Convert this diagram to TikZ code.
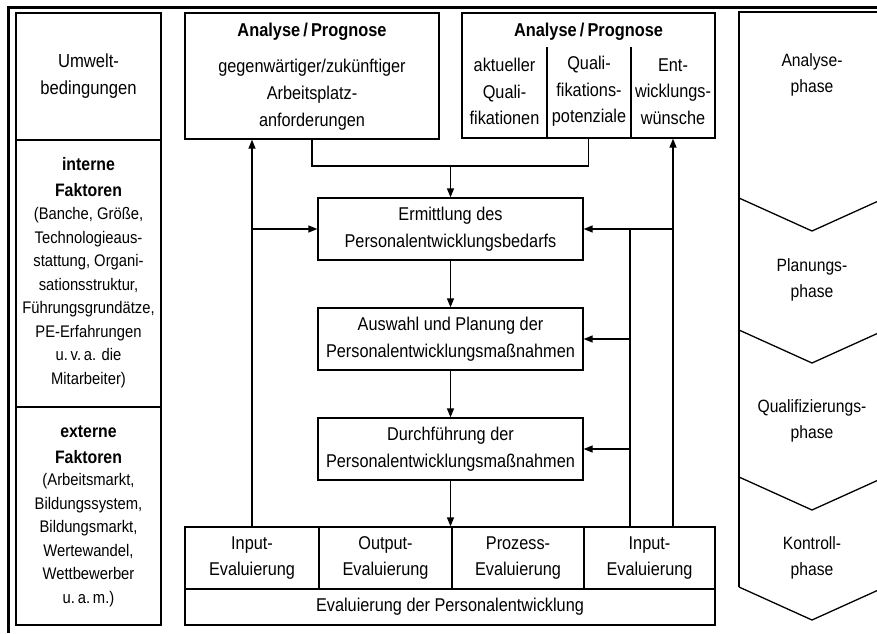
\documentclass[tikz,border=0pt]{standalone}
\usepackage{fontspec}
\setmainfont[FakeStretch=0.88]{Liberation Sans}
\usetikzlibrary{arrows.meta}
\newcommand{\fM}{\fontsize{18.5}{26.5}\selectfont}
\newcommand{\fL}{\fontsize{16.8}{23.5}\selectfont}
\newcommand{\fH}{\fontsize{18}{26}\selectfont\bfseries}
\newcommand{\fT}{\fontsize{18.6}{26}\selectfont\bfseries}
\newcommand{\fP}{\fontsize{17.8}{26}\selectfont}
\begin{document}
\begin{tikzpicture}[x=1pt,y=-1pt,
  box/.style={draw, line width=1.3pt, inner sep=0pt, align=center, font=\fM},
  txt/.style={align=center, inner sep=0pt, font=\fM},
  ln/.style={line width=1.3pt},
  arr/.style={line width=1.3pt, -{Triangle[length=9pt,width=7pt]}}]
\useasboundingbox (0,0) rectangle (877,633);
% outer frame
\draw[line width=3pt] (877,7) -- (8,7) -- (8,633);

% left column
\node[box, minimum width=145pt, minimum height=127pt] (umw) at (88.5,76.5) {};
\node[txt, font=\fontsize{18.9}{27}\selectfont] (umwT) at (umw.center) {Umwelt-\\bedingungen};
\node[box, minimum width=145pt, minimum height=267pt] (int) at (88.5,273.5) {};
\node[txt, font=\fH] (intH) at (88.5,177) {interne\\Faktoren};
\node[txt, font=\fL] (intB) at (88.5,297.5) {(Banche, Größe,\\Technologieaus-\\stattung, Organi-\\sationsstruktur,\\Führungsgrundätze,\\PE-Erfahrungen\\u.\,v.\,a. die\\Mitarbeiter)};
\node[box, minimum width=145pt, minimum height=218pt] (ext) at (88.5,516) {};
\node[txt, font=\fH] (extH) at (88.5,444.5) {externe\\Faktoren};
\node[txt, font=\fL] (extB) at (88.5,540) {(Arbeitsmarkt,\\Bildungssystem,\\Bildungsmarkt,\\Wertewandel,\\Wettbewerber\\u.\,a.\,m.)};

% Analyse / Prognose left
\node[box, minimum width=254pt, minimum height=126pt] (al) at (312,76) {};
\node[txt, font=\fT] (alT) at (312,32) {Analyse\,/\,Prognose};
\node[txt, font=\fontsize{18.5}{27}\selectfont] (alB) at (312,95) {gegenwärtiger/zukünftiger\\Arbeitsplatz-\\anforderungen};

% Analyse / Prognose right
\node[box, minimum width=253pt, minimum height=125pt] (ar) at (588.5,75.5) {};
\node[txt, font=\fT] (arT) at (588.5,32) {Analyse\,/\,Prognose};
\coordinate (d1t) at (547,47);
\coordinate (d2t) at (631,47);
\draw[ln] (d1t) -- (d1t |- ar.south);
\draw[ln] (d2t) -- (d2t |- ar.south);
\node[txt] (ar1) at (504.5,91.7) {aktueller\\Quali-\\fikationen};
\node[txt] (ar2) at (589,91.7) {Quali-\\fikations-\\potenziale};
\node[txt] (ar3) at (673,91.7) {Ent-\\wicklungs-\\wünsche};

% centre boxes
\node[box, minimum width=265pt, minimum height=62pt] (erm) at (450.5,229) {Ermittlung des\\Personalentwicklungsbedarfs};
\node[box, minimum width=265pt, minimum height=62pt] (ausw) at (450.5,339) {Auswahl und Planung der\\Personalentwicklungsmaßnahmen};
\node[box, minimum width=265pt, minimum height=62pt] (durch) at (450.5,449) {Durchführung der\\Personalentwicklungsmaßnahmen};

% evaluation
\node[box, minimum width=134pt, minimum height=62pt] (ev1) at (252,558) {Input-\\Evaluierung};
\node[box, minimum width=133pt, minimum height=62pt] (ev2) at (385.5,558) {Output-\\Evaluierung};
\node[box, minimum width=132pt, minimum height=62pt] (ev3) at (518,558) {Prozess-\\Evaluierung};
\node[box, minimum width=131pt, minimum height=62pt] (ev4) at (649.5,558) {Input-\\Evaluierung};
\node[box, minimum width=530pt, minimum height=36pt] (evall) at (450,607) {Evaluierung der Personalentwicklung};

% phases
\draw[ln] (885,12) -- (739,12) -- (739,587);
\foreach \yl in {198,330,477,587}{
  \draw[ln] (739,\yl) -- (812,\yl+33) -- (885,\yl);
}
\node[txt, font=\fP] (ph1) at (812,75) {Analyse-\\phase};
\node[txt, font=\fP] (ph2) at (812,280) {Planungs-\\phase};
\node[txt, font=\fP] (ph3) at (812,420.5) {Qualifizierungs-\\phase};
\node[txt, font=\fP] (ph4) at (812,558) {Kontroll-\\phase};

% connectors
\coordinate (mj) at (450.5,166);
\draw[ln] (al.south) |- (mj) -| (ar.south);
\draw[arr] (mj) -- (erm.north);
\draw[arr] (erm.south) -- (ausw.north);
\draw[arr] (ausw.south) -- (durch.north);
\draw[arr] (durch.south) -- (durch.south |- ev2.north);

\draw[arr] (ev1.north) -- (ev1.north |- al.south);
\draw[arr] (ev1.north |- erm.west) -- (erm.west);

\coordinate (r1) at (673,527);
\coordinate (r2) at (630,527);
\draw[arr] (r1) -- (r1 |- ar.south);
\draw[arr] (r1 |- erm.east) -- (erm.east);
\draw[ln] (r2) -- (r2 |- erm.east);
\draw[arr] (r2 |- ausw.east) -- (ausw.east);
\draw[arr] (r2 |- durch.east) -- (durch.east);
\end{tikzpicture}
\end{document}
